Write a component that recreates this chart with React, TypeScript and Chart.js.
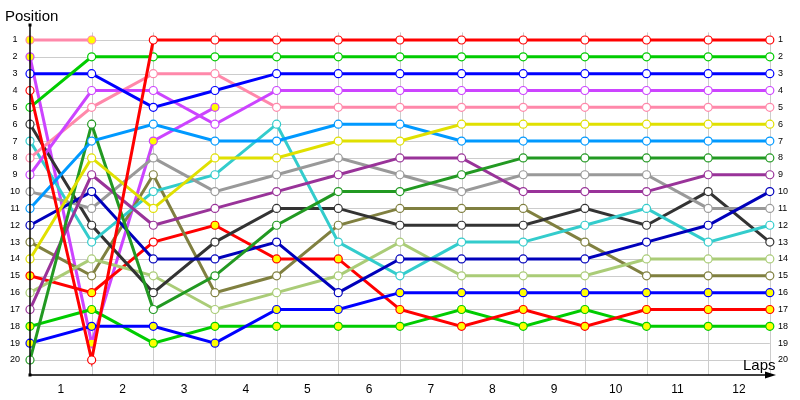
import React, { useEffect, useRef } from "react";
import { Chart, registerables, Plugin } from "chart.js";

Chart.register(...registerables);

// lap 0 is the grid, labels sit between the lap lines
const laps = [0, 1, 2, 3, 4, 5, 6, 7, 8, 9, 10, 11, 12];
const lapLabels = ["1", "2", "3", "4", "5", "6", "7", "8", "9", "10", "11", "12"];
const positions = [1, 2, 3, 4, 5, 6, 7, 8, 9, 10, 11, 12, 13, 14, 15, 16, 17, 18, 19, 20];

const redLeader = [4, 20, 1, 1, 1, 1, 1, 1, 1, 1, 1, 1, 1];
const greenSecond = [5, 2, 2, 2, 2, 2, 2, 2, 2, 2, 2, 2, 2];
const blueThird = [3, 3, 5, 4, 3, 3, 3, 3, 3, 3, 3, 3, 3];
const violetFourth = [9, 4, 4, 6, 4, 4, 4, 4, 4, 4, 4, 4, 4];
const pinkFifth = [8, 5, 3, 3, 5, 5, 5, 5, 5, 5, 5, 5, 5];
const yellowSixth = [14, 8, 11, 8, 8, 7, 7, 6, 6, 6, 6, 6, 6];
const skySeventh = [11, 7, 6, 7, 7, 6, 6, 7, 7, 7, 7, 7, 7];
const forestEighth = [20, 6, 17, 15, 12, 10, 10, 9, 8, 8, 8, 8, 8];
const purpleNinth = [17, 9, 12, 11, 10, 9, 8, 8, 10, 10, 10, 9, 9];
const navyTenth = [12, 10, 14, 14, 13, 16, 14, 14, 14, 14, 13, 12, 10];
const greyEleventh = [10, 11, 8, 10, 9, 8, 9, 10, 9, 9, 9, 11, 11];
const tealTwelfth = [7, 13, 10, 9, 6, 13, 15, 13, 13, 12, 11, 13, 12];
const charcoalThirteenth = [6, 12, 16, 13, 11, 11, 12, 12, 12, 11, 12, 10, 13];
const limeFourteenth = [16, 14, 15, 17, 16, 15, 13, 15, 15, 15, 14, 14, 14];
const oliveFifteenth = [13, 15, 9, 16, 15, 12, 11, 11, 11, 13, 15, 15, 15];
const blueSixteenth = [19, 18, 18, 19, 17, 17, 16, 16, 16, 16, 16, 16, 16];
const redSeventeenth = [15, 16, 13, 12, 14, 14, 17, 18, 17, 18, 17, 17, 17];
const greenEighteenth = [18, 17, 19, 18, 18, 18, 18, 17, 18, 17, 18, 18, 18];
const violetRetired = [2, 19, 7, 5, null, null, null, null, null, null, null, null, null];
const pinkRetired = [1, 1, null, null, null, null, null, null, null, null, null, null, null];

// laps where the marker is filled yellow
const allLaps = laps;
const redSeventeenthMarks = [0, 1, 3, 4, 5, 6, 7, 8, 9, 10, 11, 12];
const violetRetiredMarks = [0, 1, 2, 3];
const pinkRetiredMarks = [0, 1];

const drivers: { name: string; pos: (number | null)[]; color: string; marks: number[] }[] = [
  { name: "P1", pos: redLeader, color: "#ff0000", marks: [] },
  { name: "P2", pos: greenSecond, color: "#00cc00", marks: [] },
  { name: "P3", pos: blueThird, color: "#0000ff", marks: [] },
  { name: "P4", pos: violetFourth, color: "#cc44ff", marks: [] },
  { name: "P5", pos: pinkFifth, color: "#ff88aa", marks: [] },
  { name: "P6", pos: yellowSixth, color: "#e0e000", marks: [] },
  { name: "P7", pos: skySeventh, color: "#0099ff", marks: [] },
  { name: "P8", pos: forestEighth, color: "#229922", marks: [] },
  { name: "P9", pos: purpleNinth, color: "#993399", marks: [] },
  { name: "P10", pos: navyTenth, color: "#0000bb", marks: [] },
  { name: "P11", pos: greyEleventh, color: "#999999", marks: [] },
  { name: "P12", pos: tealTwelfth, color: "#33cccc", marks: [] },
  { name: "P13", pos: charcoalThirteenth, color: "#333333", marks: [] },
  { name: "P14", pos: limeFourteenth, color: "#aacc77", marks: [] },
  { name: "P15", pos: oliveFifteenth, color: "#808040", marks: [] },
  { name: "P16", pos: blueSixteenth, color: "#0000ff", marks: allLaps },
  { name: "P17", pos: redSeventeenth, color: "#ff0000", marks: redSeventeenthMarks },
  { name: "P18", pos: greenEighteenth, color: "#00cc00", marks: allLaps },
  { name: "DNF1", pos: violetRetired, color: "#cc44ff", marks: violetRetiredMarks },
  { name: "DNF2", pos: pinkRetired, color: "#ff88aa", marks: pinkRetiredMarks },
];

const titleFont = "15px 'Liberation Sans', Arial, sans-serif";

// grid drawn by hand so it stops at the last lap, plus axis arrows and titles
const lapChartDecor: Plugin<"line"> = {
  id: "lapChartDecor",
  beforeDatasetsDraw(chart) {
    const { ctx, scales } = chart;
    const x = scales.x;
    const y = scales.y;
    ctx.save();
    ctx.strokeStyle = "#cccccc";
    ctx.lineWidth = 1;
    positions.forEach((p) => {
      const py = Math.round(y.getPixelForValue(p)) + 0.5;
      ctx.beginPath();
      ctx.moveTo(x.getPixelForValue(0), py);
      ctx.lineTo(x.getPixelForValue(laps[laps.length - 1]), py);
      ctx.stroke();
    });
    laps.slice(1).forEach((l) => {
      const px = Math.round(x.getPixelForValue(l)) + 0.5;
      ctx.beginPath();
      ctx.moveTo(px, y.getPixelForValue(0.55));
      ctx.lineTo(px, chart.chartArea.bottom);
      ctx.stroke();
    });
    ctx.restore();
  },
  afterDraw(chart) {
    const { ctx, chartArea } = chart;
    const { left, top, right, bottom } = chartArea;
    ctx.save();
    ctx.strokeStyle = "#000000";
    ctx.fillStyle = "#000000";
    ctx.lineWidth = 1.5;
    ctx.beginPath();
    ctx.moveTo(left, top);
    ctx.lineTo(left, bottom);
    ctx.lineTo(right - 4, bottom);
    ctx.stroke();
    ctx.fillRect(left - 1.5, top - 1.5, 3, 3);
    ctx.fillRect(left - 1.5, bottom - 1.5, 3, 3);
    ctx.beginPath();
    ctx.moveTo(right, bottom);
    ctx.lineTo(right - 11, bottom - 3.5);
    ctx.lineTo(right - 11, bottom + 3.5);
    ctx.closePath();
    ctx.fill();
    ctx.font = titleFont;
    ctx.textBaseline = "alphabetic";
    ctx.textAlign = "left";
    ctx.fillText("Position", 5, 21);
    ctx.fillText("Laps", 743, 370);
    ctx.restore();
  },
};

const LapChart: React.FC = () => {
  const canvasRef = useRef<HTMLCanvasElement | null>(null);
  const chartRef = useRef<Chart | null>(null);

  useEffect(() => {
    const ctx = canvasRef.current?.getContext("2d");
    if (!ctx) return;
    if (chartRef.current) chartRef.current.destroy();

    const tickFont = { family: "'Liberation Sans', Arial, sans-serif", size: 9 };

    chartRef.current = new Chart(ctx, {
      type: "line",
      data: {
        datasets: drivers.map((d) => ({
          label: d.name,
          data: d.pos.map((p, i) => ({ x: laps[i], y: p as number })),
          borderColor: d.color,
          borderWidth: 3,
          pointRadius: 4,
          pointHoverRadius: 4,
          pointBorderWidth: 1.2,
          pointBorderColor: d.color,
          pointBackgroundColor: d.pos.map((_, i) => (d.marks.includes(i) ? "#ffff00" : "#ffffff")),
          tension: 0,
          spanGaps: false,
          clip: false as any,
        })),
      },
      options: {
        animation: false,
        responsive: true,
        maintainAspectRatio: false,
        layout: { padding: { top: 25, left: 0, right: 0, bottom: 0 } },
        plugins: {
          legend: { display: false },
          tooltip: { enabled: false },
        },
        scales: {
          x: {
            type: "linear",
            min: 0,
            max: 12.1,
            grid: { display: false, drawTicks: false },
            border: { display: false },
            afterBuildTicks: (scale) => {
              scale.ticks = lapLabels.map((_, i) => ({ value: i + 0.5 }));
            },
            afterFit: (scale) => {
              scale.height = 25;
            },
            ticks: {
              autoSkip: false,
              maxRotation: 0,
              padding: 7,
              color: "#000000",
              font: { family: "'Liberation Sans', Arial, sans-serif", size: 12 },
              callback: (v) => lapLabels[Math.floor(Number(v))] ?? "",
            },
          },
          y: {
            type: "linear",
            position: "left",
            reverse: true,
            min: 0.11,
            max: 20.89,
            grid: { display: false, drawTicks: false },
            border: { display: false },
            afterBuildTicks: (scale) => {
              scale.ticks = positions.map((p) => ({ value: p }));
            },
            afterFit: (scale) => {
              scale.width = 30;
            },
            ticks: {
              autoSkip: false,
              crossAlign: "center",
              padding: 10,
              color: "#000000",
              font: tickFont,
              callback: (v) => String(v),
            },
          },
          y2: {
            type: "linear",
            position: "right",
            reverse: true,
            min: 0.11,
            max: 20.89,
            grid: { display: false, drawTicks: false },
            border: { display: false },
            afterBuildTicks: (scale) => {
              scale.ticks = positions.map((p) => ({ value: p }));
            },
            afterFit: (scale) => {
              scale.width = 24;
            },
            ticks: {
              autoSkip: false,
              crossAlign: "near",
              padding: 2,
              color: "#000000",
              font: tickFont,
              callback: (v) => String(v),
            },
          },
        },
      },
      plugins: [lapChartDecor],
    });

    return () => {
      if (chartRef.current) chartRef.current.destroy();
      chartRef.current = null;
    };
  }, []);

  return (
    <div style={{ position: "fixed", left: 0, top: 0, width: 800, height: 400, background: "#ffffff" }}>
      <canvas ref={canvasRef}></canvas>
    </div>
  );
};

export default function App() {
  return <LapChart />;
}
